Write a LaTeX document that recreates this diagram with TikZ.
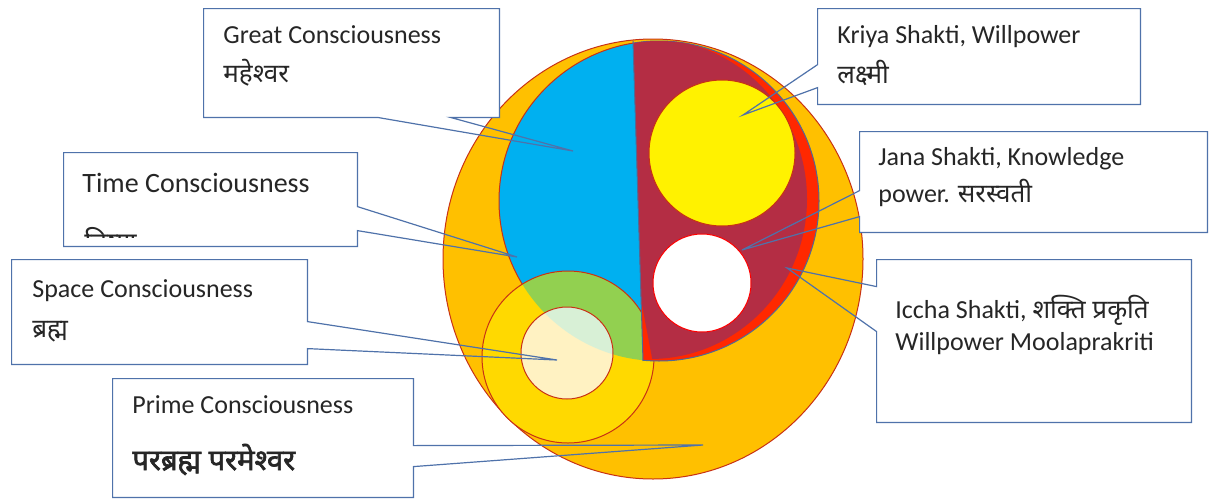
\documentclass[tikz,border=0pt]{standalone}
\usepackage{fontspec}
\setmainfont{Carlito}
\newfontfamily\deva[Script=Devanagari]{Noto Sans}
\newfontfamily\devabold[Script=Devanagari, FakeBold=2.2]{Noto Sans}
\usetikzlibrary{fit}

\definecolor{eggorange}{RGB}{255,192,0}
\definecolor{skyblue}{RGB}{0,176,240}
\definecolor{wine}{RGB}{180,45,68}
\definecolor{hotred}{RGB}{255,40,0}
\definecolor{goldfill}{RGB}{255,217,0}
\definecolor{leafgreen}{RGB}{146,208,80}
\definecolor{paleyellow}{RGB}{255,242,194}
\definecolor{palegreen}{RGB}{216,240,214}
\definecolor{rimred}{RGB}{200,50,20}
\definecolor{steelrim}{RGB}{80,105,150}
\definecolor{calloutblue}{RGB}{79,114,170}
\definecolor{textgray}{RGB}{38,38,38}

\tikzset{
  callbox/.style={fill=white, inner sep=0pt},
  callline/.style={draw=calloutblue, line width=0.6pt, line join=miter},
  boxtext/.style={anchor=base west, inner sep=0pt, text=textgray,
    font=\fontsize{13}{15}\selectfont},
  shapeline/.style={draw=rimred, line width=0.5pt}
}

\begin{document}
\begin{tikzpicture}[x=0.5pt, y=-0.5pt]
\useasboundingbox (0,0) rectangle (1209,498);

% outer egg
\draw[shapeline, fill=eggorange] (653,259) ellipse [x radius=210, y radius=220];

% blue half of the big circle
\begin{scope}
  \clip (631.8,0) -- (644.8,420) -- (400,420) -- (400,0) -- cycle;
  \fill[skyblue] (659,201) circle [radius=160];
  \draw[shapeline] (659,201) circle [radius=160];
\end{scope}

% space circle, green where it lies on blue
\fill[goldfill] (568,357) circle [radius=86];
\begin{scope}
  \clip (631.8,0) -- (644.8,420) -- (400,420) -- (400,0) -- cycle;
  \clip (659,201) circle [radius=160];
  \fill[leafgreen] (568,357) circle [radius=86];
\end{scope}
\draw[shapeline] (568,357) circle [radius=86];

\fill[paleyellow] (567,353) circle [radius=46];
\begin{scope}
  \clip (631.8,0) -- (644.8,420) -- (400,420) -- (400,0) -- cycle;
  \clip (659,201) circle [radius=160];
  \fill[palegreen] (567,353) circle [radius=46];
\end{scope}
\draw[shapeline] (567,353) circle [radius=46];

% red and wine half
\begin{scope}
  \clip (631.8,0) -- (644.8,420) -- (900,420) -- (900,0) -- cycle;
  \fill[hotred] (659,201) circle [radius=160];
  \draw[steelrim, line width=0.5pt] (659,201) circle [radius=160];
\end{scope}
\begin{scope}
  \clip (631.8,0) -- (641.1,300) -- (652,358) -- (660,420) -- (900,420) -- (900,0) -- cycle;
  \clip (659,201) circle [radius=160];
  \fill[wine] (650,199) ellipse [x radius=157, y radius=160];
\end{scope}
\draw[steelrim, line width=0.5pt] (633,41) -- (643,361);

\draw[shapeline, fill=yellow] (722,153) circle [radius=73];
\draw[shapeline, draw=red, fill=white] (702,283) circle [radius=49];

% callout boxes
\node[callbox, fit={(204,9) (499,117)}] (great) {};
\node[callbox, fit={(818,9) (1140,104)}] (kriya) {};
\node[callbox, fit={(64,153) (357,246)}] (timebox) {};
\node[callbox, fit={(12,260) (307,364)}] (space) {};
\node[callbox, fit={(113,379) (413,497)}] (prime) {};
\node[callbox, fit={(860,132) (1207,232)}] (jana) {};
\node[callbox, fit={(877,260) (1191,422)}] (iccha) {};

\coordinate (great-tip) at (573,151);
\coordinate (kriya-tip) at (743,115);
\coordinate (time-tip) at (517,257);
\coordinate (space-tip) at (557,360);
\coordinate (prime-tip) at (703,445);
\coordinate (jana-tip) at (742,250);
\coordinate (iccha-tip) at (787,268);

% texts
\node[boxtext] (great-a) at (223,43) {Great Consciousness};
\node[boxtext] (great-b) at (223,82) {\deva महेश्वर};
\node[boxtext] (kriya-a) at (837,43) {Kriya Shakti, Willpower};
\node[boxtext] (kriya-b) at (837,83) {\deva लक्ष्मी};
\node[boxtext, font=\fontsize{14}{16}\selectfont] (time-a) at (82,192) {Time Consciousness};
\begin{scope}
  \clip (64,153) rectangle (357,237);
  \node[boxtext, font=\fontsize{14}{16}\selectfont] (time-b) at (84,252) {\deva विष्णु};
\end{scope}
\node[boxtext] (space-a) at (32,297) {Space Consciousness};
\node[boxtext] (space-b) at (32,337) {\deva ब्रह्म};
\node[boxtext] (prime-a) at (132,413) {Prime Consciousness};
\node[boxtext, font=\fontsize{14.6}{17}\selectfont] (prime-b) at (132,470) {\devabold परब्रह्म परमेश्वर};
\node[boxtext] (jana-a) at (878,165) {Jana Shakti, Knowledge};
\node[boxtext] (jana-b) at (878,202) {power. {\deva सरस्वती}};
\node[boxtext] (iccha-a) at (895,318) {Iccha Shakti, {\deva शक्ति प्रकृति}};
\node[boxtext] (iccha-b) at (895,350) {Willpower Moolaprakriti};

% callout outlines with their pointers
\draw[callline] (great.north west) -- (great.north east) -- (great.south east)
  -- ([shift={(-49,0)}]great.south east) -- (great-tip)
  -- ([shift={(-122,0)}]great.south east) -- (great.south west) -- cycle;
\draw[callline] (kriya.north west) -- ([shift={(0,56)}]kriya.north west) -- (kriya-tip)
  -- ([shift={(0,79)}]kriya.north west) -- (kriya.south west) -- (kriya.south east)
  -- (kriya.north east) -- cycle;
\draw[callline] (timebox.north west) -- (timebox.north east)
  -- ([shift={(0,54)}]timebox.north east) -- (time-tip)
  -- ([shift={(0,78)}]timebox.north east) -- (timebox.south east)
  -- (timebox.south west) -- cycle;
\draw[callline] (space.north west) -- (space.north east)
  -- ([shift={(0,62)}]space.north east) -- (space-tip)
  -- ([shift={(0,89)}]space.north east) -- (space.south east)
  -- (space.south west) -- cycle;
\draw[callline] (prime.north west) -- (prime.north east)
  -- ([shift={(0,67)}]prime.north east) -- (prime-tip)
  -- ([shift={(0,88)}]prime.north east) -- (prime.south east)
  -- (prime.south west) -- cycle;
\draw[callline] (jana.north west) -- ([shift={(0,59)}]jana.north west) -- (jana-tip)
  -- ([shift={(0,85)}]jana.north west) -- (jana.south west) -- (jana.south east)
  -- (jana.north east) -- cycle;
\draw[callline] (iccha.north west) -- ([shift={(0,27)}]iccha.north west) -- (iccha-tip)
  -- ([shift={(0,72)}]iccha.north west) -- (iccha.south west) -- (iccha.south east)
  -- (iccha.north east) -- cycle;
\end{tikzpicture}
\end{document}
